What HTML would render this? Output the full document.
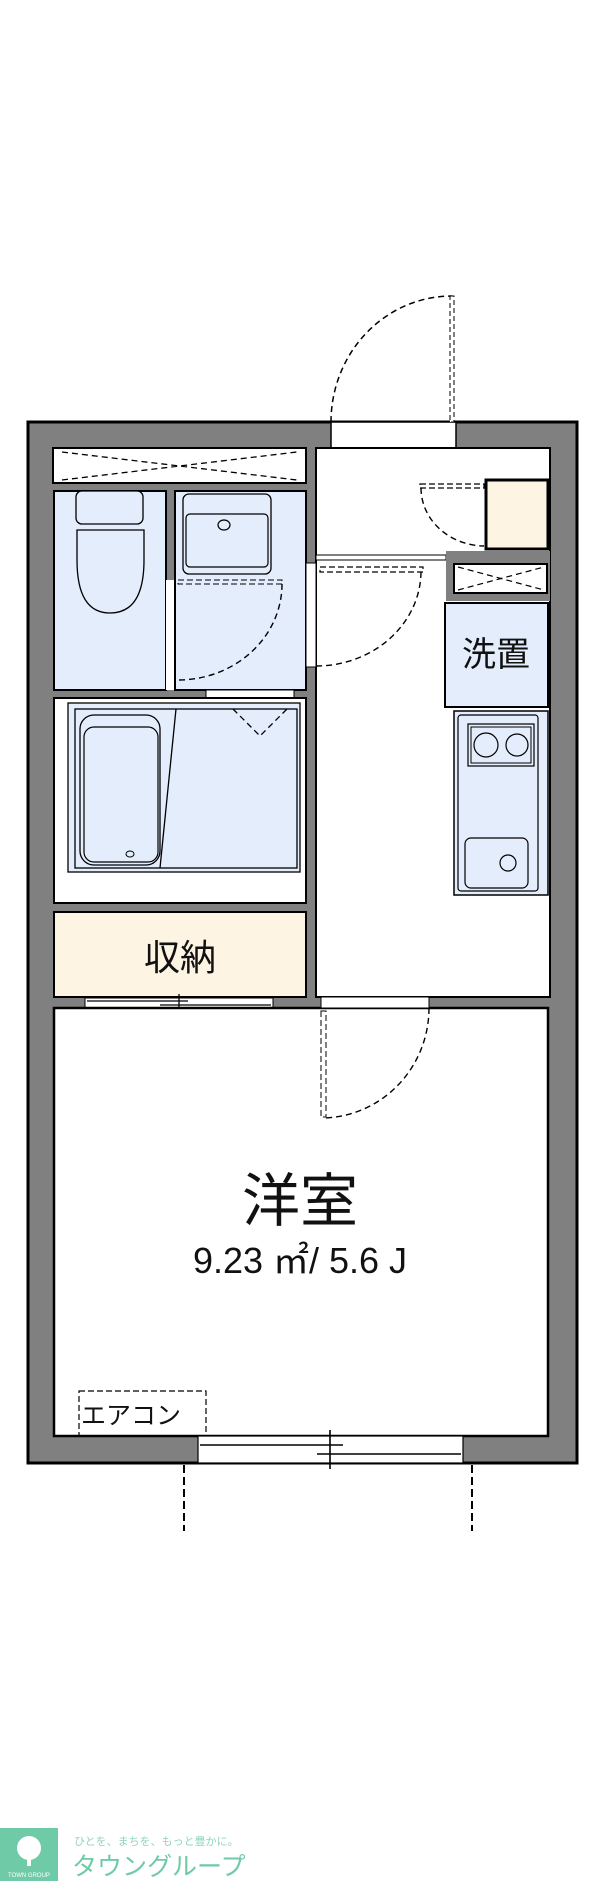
<!DOCTYPE html>
<html><head><meta charset="utf-8"><style>
html,body{margin:0;padding:0;background:#fff}
svg{display:block}
text{font-family:"Liberation Sans","Noto Sans CJK JP",sans-serif}
</style></head><body>
<svg width="600" height="1881" viewBox="0 0 600 1881" xmlns="http://www.w3.org/2000/svg">
<!-- outer wall -->
<rect x="28" y="422" width="549" height="1041" fill="#808080" stroke="#000" stroke-width="3"/>
<!-- entrance opening -->
<rect x="331" y="422" width="125" height="26" fill="#fff" stroke="#000" stroke-width="1.5"/>
<path d="M331 422 A121 126 0 0 1 452 296" fill="none" stroke="#000" stroke-width="1.5" stroke-dasharray="6,4"/>
<rect x="450" y="296" width="4" height="126" fill="#fff" stroke="#000" stroke-width="1" stroke-dasharray="5,3"/>
<!-- closet top strip -->
<rect x="53" y="448" width="253" height="35" fill="#fff" stroke="#000" stroke-width="2"/>
<path d="M62 452 L297 480 M62 480 L297 452" stroke="#000" stroke-width="1.3" stroke-dasharray="6,4"/>
<!-- toilet -->
<rect x="54" y="491" width="112" height="199" fill="#e3edfb" stroke="#000" stroke-width="2"/>
<rect x="76" y="491" width="67" height="33" rx="6" fill="#e3edfb" stroke="#000" stroke-width="1.3"/>
<path d="M77 530 H144 V560 Q144 613 110 613 Q77 613 77 560 Z" fill="#e3edfb" stroke="#000" stroke-width="1.3"/>
<rect x="166" y="580" width="9" height="110" fill="#fff"/>
<!-- wash room -->
<rect x="175" y="491" width="131" height="199" fill="#e3edfb" stroke="#000" stroke-width="2"/>
<rect x="183" y="494" width="88" height="80" rx="6" fill="#e3edfb" stroke="#000" stroke-width="1.3"/>
<rect x="186" y="514" width="82" height="53" rx="4" fill="none" stroke="#000" stroke-width="1.2"/>
<ellipse cx="224" cy="525" rx="6" ry="5" fill="none" stroke="#000" stroke-width="1.2"/>
<rect x="178" y="580" width="104" height="4" fill="none" stroke="#000" stroke-width="1" stroke-dasharray="6,3"/>
<path d="M282 584 A104 96 0 0 1 178 680" fill="none" stroke="#000" stroke-width="1.4" stroke-dasharray="6,4"/>
<rect x="206" y="690" width="88" height="8" fill="#fff" stroke="#000" stroke-width="1"/>
<!-- bath -->
<rect x="54" y="698" width="252" height="205" fill="#fff" stroke="#000" stroke-width="2"/>
<rect x="68" y="703" width="232" height="169" fill="#e3edfb" stroke="#000" stroke-width="1.3"/>
<rect x="75" y="709" width="222" height="159" fill="#e3edfb" stroke="#000" stroke-width="1.3"/>
<path d="M176 709 L160 868" stroke="#000" stroke-width="1.3"/>
<rect x="80" y="715" width="80" height="150" rx="14" fill="#e3edfb" stroke="#000" stroke-width="1.3"/>
<rect x="84" y="727" width="74" height="135" rx="10" fill="none" stroke="#000" stroke-width="1.2"/>
<ellipse cx="130" cy="854" rx="4" ry="3" fill="none" stroke="#000" stroke-width="1"/>
<path d="M233 709 L260 736 L287 709" fill="none" stroke="#000" stroke-width="1.3" stroke-dasharray="6,4"/>
<!-- storage -->
<rect x="54" y="912" width="252" height="85" fill="#fdf4e3" stroke="#000" stroke-width="2"/>
<text x="180" y="970" font-size="36" text-anchor="middle" fill="#111">収納</text>
<!-- storage door -->
<rect x="85" y="998" width="188" height="10" fill="#fff" stroke="#000" stroke-width="1"/>
<path d="M87 1001 H188 M160 1005 H271 M179 994 V1010" stroke="#000" stroke-width="1.3"/>
<!-- corridor -->
<rect x="316" y="448" width="234" height="549" fill="#fff" stroke="#000" stroke-width="2"/>
<rect x="306" y="563" width="10" height="104" fill="#fff" stroke="#000" stroke-width="1"/>
<rect x="316" y="555" width="130" height="5" fill="#fff" stroke="#000" stroke-width="1"/>
<rect x="320" y="567" width="103" height="5" fill="none" stroke="#000" stroke-width="1.2" stroke-dasharray="6,3"/>
<path d="M421 572 A105 95 0 0 1 316 666" fill="none" stroke="#000" stroke-width="1.4" stroke-dasharray="6,4"/>
<!-- shoe closet -->
<rect x="486" y="480" width="62" height="69" fill="#fdf4e3" stroke="#000" stroke-width="3"/>
<rect x="420" y="484" width="64" height="4" fill="none" stroke="#000" stroke-width="1.2" stroke-dasharray="6,3"/>
<path d="M421 488 A64 58 0 0 0 484 546" fill="none" stroke="#000" stroke-width="1.4" stroke-dasharray="6,4"/>
<!-- small closet -->
<rect x="446" y="551" width="104" height="50" fill="#808080"/>
<rect x="454" y="564" width="93" height="29" fill="#fff" stroke="#000" stroke-width="2"/>
<path d="M458 567 L544 590 M458 590 L544 567" stroke="#000" stroke-width="1.2" stroke-dasharray="6,4"/>
<!-- washer -->
<rect x="445" y="603" width="103" height="104" fill="#e3edfb" stroke="#000" stroke-width="2"/>
<text x="496" y="666" font-size="34" text-anchor="middle" fill="#111">洗置</text>
<!-- kitchen -->
<rect x="454" y="711" width="94" height="184" fill="#e3edfb" stroke="#000" stroke-width="1.5"/>
<rect x="458" y="715" width="80" height="176" rx="3" fill="#e3edfb" stroke="#000" stroke-width="1.2"/>
<rect x="468" y="724" width="66" height="42" fill="#e3edfb" stroke="#000" stroke-width="1.2"/>
<rect x="471" y="727" width="60" height="36" fill="none" stroke="#000" stroke-width="1"/>
<circle cx="486" cy="745" r="12" fill="none" stroke="#000" stroke-width="1.2"/>
<circle cx="517" cy="745" r="11" fill="none" stroke="#000" stroke-width="1.2"/>
<rect x="465" y="838" width="63" height="50" rx="6" fill="none" stroke="#000" stroke-width="1.2"/>
<circle cx="508" cy="863" r="8" fill="none" stroke="#000" stroke-width="1.2"/>
<!-- western room -->
<rect x="54" y="1008" width="494" height="428" fill="#fff" stroke="#000" stroke-width="2.5"/>
<rect x="321" y="997" width="108" height="11" fill="#fff" stroke="#000" stroke-width="1"/>
<rect x="321" y="1011" width="5" height="106" fill="none" stroke="#000" stroke-width="1" stroke-dasharray="6,3"/>
<path d="M429 1008 A108 110 0 0 1 323 1118" fill="none" stroke="#000" stroke-width="1.4" stroke-dasharray="6,4"/>
<text x="300" y="1221" font-size="58" text-anchor="middle" fill="#111">洋室</text>
<text x="300" y="1273" font-size="36" text-anchor="middle" fill="#111">9.23 ㎡/ 5.6 J</text>
<rect x="79" y="1391" width="127" height="45" fill="none" stroke="#000" stroke-width="1.2" stroke-dasharray="6,3"/>
<text x="81" y="1424" font-size="25" fill="#111">エアコン</text>
<!-- window -->
<rect x="198" y="1436" width="265" height="27" fill="#fff" stroke="#000" stroke-width="1.2"/>
<path d="M200 1445 H343 M317 1454 H461 M330 1430 V1469" stroke="#000" stroke-width="1.6"/>
<path d="M184 1465 V1531 M472 1465 V1531" stroke="#000" stroke-width="2" stroke-dasharray="8,4"/>
<!-- logo -->
<rect x="0" y="1828" width="58" height="53" fill="#6fcaa8"/>
<circle cx="29" cy="1848" r="12" fill="#fff"/>
<rect x="27" y="1852" width="4" height="14" fill="#fff"/>
<text x="29" y="1877" font-size="6" fill="#fff" text-anchor="middle">TOWN GROUP</text>
<text x="74" y="1845" font-size="11" fill="#8fd6bb">ひとを、まちを、もっと豊かに。</text>
<text x="72" y="1875" font-size="25" fill="#6fcaa8">タウングループ</text>
</svg>
</body></html>
